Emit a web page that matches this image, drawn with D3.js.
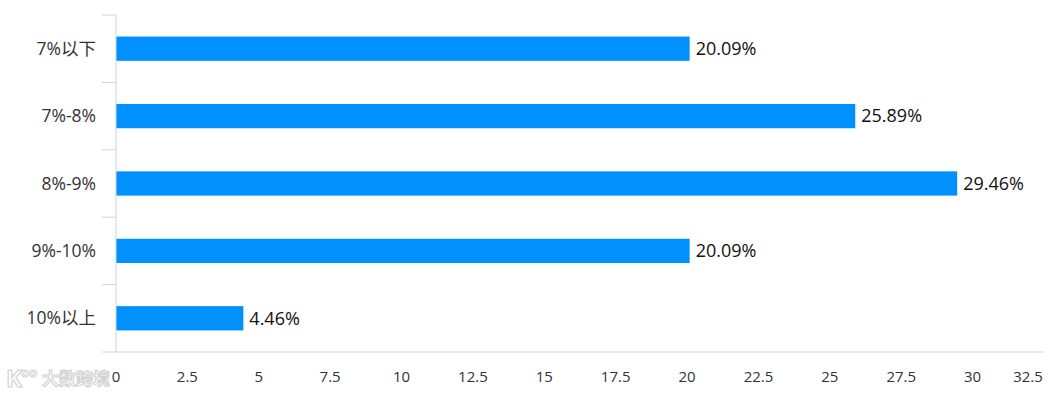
<!DOCTYPE html>
<html><head><meta charset="utf-8">
<script src="https://cdn.jsdelivr.net/npm/d3@7"></script>
<style>body{margin:0;background:#fff}svg{display:block}text{font-family:"Open Sans","Noto Sans CJK SC",sans-serif}</style>
</head><body>
<script>
const categories = ["7%以下","7%-8%","8%-9%","9%-10%","10%以上"];
const values = [20.09, 25.89, 29.46, 20.09, 4.46];
const valueLabels = ["20.09%","25.89%","29.46%","20.09%","4.46%"];
const xTicks = [0,2.5,5,7.5,10,12.5,15,17.5,20,22.5,25,27.5,30,32.5];

const W=1051,H=397;
const svg=d3.select("body").append("svg").attr("width",W).attr("height",H);
const x=d3.scaleLinear().domain([0,32.5]).range([116,1044]);
const y=d3.scaleBand().domain(categories).range([15,352]).paddingInner(0.64).paddingOuter(0.32);
const axisColor="#c9d5e2";

// watermark
const wm=svg.append("g");
wm.append("text").attr("x",6).attr("y",387).attr("font-size",24).attr("font-weight","bold")
  .attr("fill","#fff").attr("stroke","#d4d4d4").attr("stroke-width",1.2).text("K");
wm.append("text").attr("x",21).attr("y",377).attr("font-size",13).attr("font-weight","bold")
  .attr("fill","#fff").attr("stroke","#d4d4d4").attr("stroke-width",1).text("oo");
wm.append("text").attr("x",42).attr("y",385).attr("font-size",17).attr("font-family","Noto Sans CJK SC")
  .attr("font-weight","bold").attr("fill","#fff").attr("stroke","#d0d0d0").attr("stroke-width",1).text("大数跨境");

// bars
svg.append("g").selectAll("rect").data(values).join("rect")
  .attr("x",x(0)).attr("y",(d,i)=>y(categories[i]))
  .attr("width",d=>x(d)-x(0)).attr("height",y.bandwidth()).attr("fill","#0091ff");

svg.append("g").selectAll("text").data(values).join("text")
  .attr("x",d=>x(d)+6).attr("y",(d,i)=>y(categories[i])+y.bandwidth()/2)
  .attr("dy","0.35em").attr("font-size",18).attr("fill","#111").text((d,i)=>valueLabels[i]);

// y axis
const yAxis=svg.append("g").attr("transform",`translate(${x(0)},0)`);
yAxis.append("line").attr("x1",0).attr("x2",0).attr("y1",15).attr("y2",352).attr("stroke",axisColor);
const bounds=d3.range(categories.length+1).map(i=>15+i*y.step());
yAxis.selectAll("line.t").data(bounds).join("line").attr("class","t")
  .attr("x1",-14).attr("x2",0).attr("y1",d=>d).attr("y2",d=>d).attr("stroke",axisColor);
yAxis.selectAll("text").data(categories).join("text")
  .attr("x",-20).attr("y",d=>y(d)+y.bandwidth()/2).attr("dy","0.35em")
  .attr("text-anchor","end").attr("font-size",17.5).attr("fill","#333").text(d=>d);

// x axis
const xa=svg.append("g").attr("transform","translate(0,352)");
xa.append("line").attr("x1",x(0)).attr("x2",x(32.5)).attr("y1",0).attr("y2",0).attr("stroke",axisColor);
xa.selectAll("text").data(xTicks).join("text")
  .attr("x",d=>d===32.5?x(d)-16:x(d)).attr("y",25).attr("dy","0.35em")
  .attr("text-anchor","middle").attr("font-size",15).attr("fill","#333").text(d=>d);
</script>
</body></html>
